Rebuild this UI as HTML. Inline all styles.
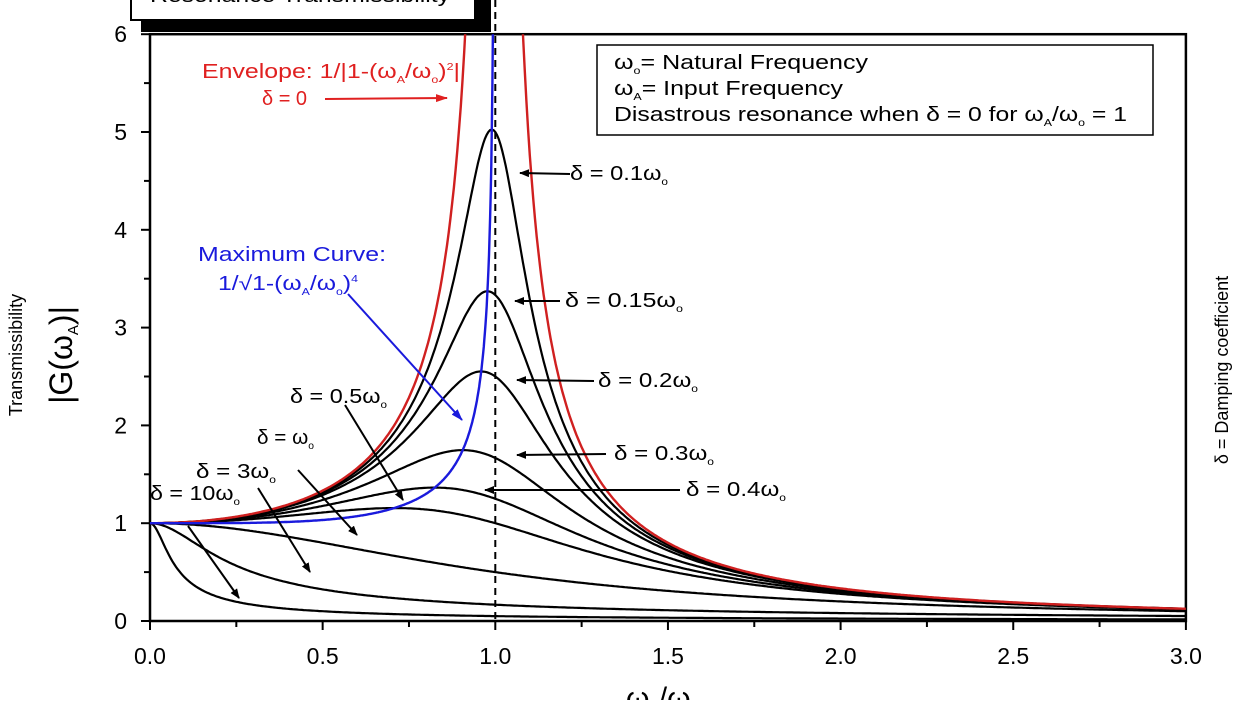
<!DOCTYPE html>
<html><head><meta charset="utf-8"><style>
body{margin:0;background:#fff;}
svg{font-family:"Liberation Sans",sans-serif;}
</style></head><body>
<svg id="c" width="1241" height="700" viewBox="0 0 1241 700">
<defs>
<marker id="ah" markerWidth="10" markerHeight="8" refX="9" refY="4" orient="auto" markerUnits="userSpaceOnUse"><path d="M0,0 L10,4 L0,8 z" fill="#000"/></marker>
<marker id="ahr" markerWidth="12" markerHeight="8" refX="11" refY="4" orient="auto" markerUnits="userSpaceOnUse"><path d="M0,0 L12,4 L0,8 z" fill="#e02020"/></marker>
<marker id="ahb" markerWidth="12" markerHeight="8" refX="11" refY="4" orient="auto" markerUnits="userSpaceOnUse"><path d="M0,0 L12,4 L0,8 z" fill="#1a1adc"/></marker>
</defs>
<g id="title-box">
<rect x="141" y="-10" width="350" height="42" fill="#000"/>
<rect x="131" y="-20" width="344" height="40" fill="#fff" stroke="#000" stroke-width="2"/>
<text x="150" y="2" font-size="20" textLength="300" lengthAdjust="spacingAndGlyphs">Resonance Transmissibility</text>
</g>
<g id="axes"></g>
<g id="curves"></g>
<g id="ann"></g>
<g>
<rect x="597" y="45" width="556" height="90" fill="#fff" stroke="#000" stroke-width="1.5"/>
<text x="614" y="69" font-size="20" textLength="254" lengthAdjust="spacingAndGlyphs">ω<tspan font-size="10" dy="5">o</tspan><tspan dy="-5">= Natural Frequency</tspan></text>
<text x="614" y="95" font-size="20" textLength="229" lengthAdjust="spacingAndGlyphs">ω<tspan font-size="10" dy="5">A</tspan><tspan dy="-5">= Input Frequency</tspan></text>
<text x="614" y="121" font-size="20" textLength="513" lengthAdjust="spacingAndGlyphs">Disastrous  resonance when δ = 0 for ω<tspan font-size="10" dy="5">A</tspan><tspan dy="-5">/ω</tspan><tspan font-size="10" dy="5">o</tspan><tspan dy="-5"> = 1</tspan></text>
</g>
<text transform="translate(22,355) rotate(-90)" text-anchor="middle" font-size="18">Transmissibility</text>
<text transform="translate(72,355) rotate(-90)" text-anchor="middle" font-size="32">|G(ω<tspan font-size="15" dy="6">A</tspan><tspan dy="-6">)|</tspan></text>
<text transform="translate(1228,370) rotate(-90)" text-anchor="middle" font-size="18">δ = Damping coefficient</text>
<text x="626" y="708" font-size="30">ω<tspan font-size="14" dy="6">A</tspan><tspan dy="-6">/ω</tspan><tspan font-size="14" dy="6">o</tspan></text>
</svg>
<script>
const xTicks=[0,0.5,1.0,1.5,2.0,2.5,3.0];
const xTickLabels=["0.0","0.5","1.0","1.5","2.0","2.5","3.0"];
const yTicks=[0,1,2,3,4,5,6];
const yTickLabels=["0","1","2","3","4","5","6"];
const dampings=[0.1,0.15,0.2,0.3,0.4,0.5,1,3,10];
const dampLabels=["δ = 0.1ω","δ = 0.15ω","δ = 0.2ω","δ = 0.3ω","δ = 0.4ω","δ = 0.5ω","δ = ω","δ = 3ω","δ = 10ω"];
const NS="http://www.w3.org/2000/svg";
const X=v=>150+v*345.3, Y=v=>621-v*97.8;
function mk(t,a,p){const e=document.createElementNS(NS,t);for(const k in a)e.setAttribute(k,a[k]);(p||document.getElementById('axes')).appendChild(e);return e;}
let f=mk('rect',{x:X(0),y:Y(6),width:X(3)-X(0),height:Y(0)-Y(6),fill:'none',stroke:'#000','stroke-width':2.5});


xTicks.forEach((v,i)=>{
 mk('line',{x1:X(v),x2:X(v),y1:Y(0),y2:Y(0)+9,stroke:'#000','stroke-width':2});
 if(i<xTicks.length-1)mk('line',{x1:X(v+0.25),x2:X(v+0.25),y1:Y(0),y2:Y(0)+6,stroke:'#000','stroke-width':2});
 const t=mk('text',{x:X(v),y:664,'text-anchor':'middle','font-size':23});t.textContent=xTickLabels[i];
 
 
});
yTicks.forEach((v,i)=>{
 mk('line',{x1:X(0)-9,x2:X(0),y1:Y(v),y2:Y(v),stroke:'#000','stroke-width':2});
 if(i<yTicks.length-1)mk('line',{x1:X(0)-6,x2:X(0),y1:Y(v+0.5),y2:Y(v+0.5),stroke:'#000','stroke-width':2});
 const t=mk('text',{x:127,y:Y(v)+8,'text-anchor':'end','font-size':23});t.textContent=yTickLabels[i];
 
 
});
let dl=mk('line',{x1:X(1),x2:X(1),y1:0,y2:Y(0),stroke:'#000','stroke-width':2,'stroke-dasharray':'7,5'});


const cg=document.getElementById('curves');
function path(fn,x0,x1,color,w){
 let d='';const n=600;
 for(let i=0;i<=n;i++){const r=x0+(x1-x0)*i/n;let v=fn(r);if(!isFinite(v)||v>6.3)v=6.3;d+=(i?'L':'M')+X(r).toFixed(1)+','+Y(v).toFixed(1);}
 return mk('path',{d:d,fill:'none',stroke:color,'stroke-width':w},cg);
}
const clipR=mk('clipPath',{id:'pc'},cg);mk('rect',{x:X(0),y:Y(6),width:X(3)-X(0),height:Y(0)-Y(6)},clipR);
cg.setAttribute('clip-path','url(#pc)');
dampings.forEach(dd=>{
 const p=path(r=>1/Math.sqrt((1-r*r)**2+(2*dd*r)**2),0,3,'#000',2.2);
 
 
});
const env=path(r=>1/Math.abs(1-r*r),0,3,'#d02020',2.4);


const mx=path(r=>1/Math.sqrt(1-r**4),0,0.99995,'#1a1adc',2.4);


const an=document.getElementById('ann');
function arrow(x1,y1,x2,y2,m,c){return mk('line',{x1,y1,x2,y2,stroke:c||'#000','stroke-width':2,'marker-end':'url(#'+m+')'},an);}
function lab(x,y,s,w){const t=mk('text',{x,y,'font-size':20,textLength:w,lengthAdjust:'spacingAndGlyphs'},an);t.innerHTML=s+'<tspan font-size="10" dy="5">o</tspan>';
 
 return t;}
const A=[[570,174,520,173],[560,301,515,301],[594,381,517,380],[606,454,517,455],[680,490,485,490],[345,405,403,500],[298,470,357,535],[258,488,310,572],[188,526,239,598]];
const L=[[570,180,98],[565,307,118],[598,387,100],[614,460,100],[686,496,100],[290,403,97],[257,444,57],[196,478,80],[150,500,90]];
dampings.forEach((dd,i)=>{arrow(...A[i],'ah');lab(L[i][0],L[i][1],dampLabels[i],L[i][2]);});
const t1=mk('text',{x:202,y:78,'font-size':20,fill:'#e02020',textLength:258,lengthAdjust:'spacingAndGlyphs'},an);t1.innerHTML='Envelope: 1/|1-(ω<tspan font-size="10" dy="5">A</tspan><tspan dy="-5">/ω</tspan><tspan font-size="10" dy="5">o</tspan><tspan dy="-5">)</tspan><tspan font-size="10" dy="-8">2</tspan><tspan dy="8">|</tspan>';


const t2=mk('text',{x:262,y:105,'font-size':20,fill:'#e02020'},an);t2.textContent='δ = 0';


arrow(325,99,447,98,'ahr','#e02020');
const t3=mk('text',{x:198,y:261,'font-size':20,fill:'#1a1adc',textLength:188,lengthAdjust:'spacingAndGlyphs'},an);t3.textContent='Maximum Curve:';


const t4=mk('text',{x:218,y:290,'font-size':20,fill:'#1a1adc',textLength:140,lengthAdjust:'spacingAndGlyphs'},an);t4.innerHTML='1/√1-(ω<tspan font-size="10" dy="5">A</tspan><tspan dy="-5">/ω</tspan><tspan font-size="10" dy="5">o</tspan><tspan dy="-5">)</tspan><tspan font-size="10" dy="-8">4</tspan>';


arrow(348,294,462,420,'ahb','#1a1adc');
</script>
</body></html>
